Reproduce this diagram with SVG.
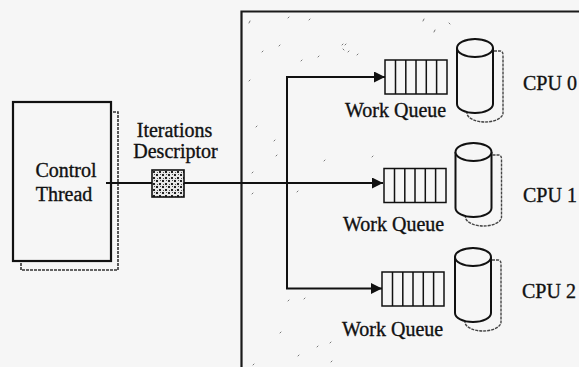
<svg xmlns="http://www.w3.org/2000/svg" width="579" height="367" viewBox="0 0 579 367">
  <style>
    .lbl { font-family: "Liberation Serif", "Times New Roman", serif; font-size: 20px; fill: #111; stroke: #111; stroke-width: 0.35; }
    .edge { fill: none; stroke: #111; stroke-width: 2; }
    .frame { fill: none; stroke: #1a1a1a; stroke-width: 2.2; }
    .shadow { fill: none; stroke: #444; stroke-width: 1.4; stroke-dasharray: 3 1; }
    .body { fill: #f6f6f6; stroke: #111; stroke-width: 2; }
    .cell { fill: none; stroke: #111; stroke-width: 1.5; }
    .speck { stroke: #777; stroke-width: 1; stroke-linecap: round; }
  </style>
  <defs>
    <marker id="arrow" markerUnits="userSpaceOnUse" markerWidth="11" markerHeight="11" refX="11" refY="5.5" orient="auto">
      <path d="M0,0 L11,5.5 L0,11 z" fill="#111"/>
    </marker>
    <pattern id="dither" width="6" height="6" patternUnits="userSpaceOnUse">
      <rect width="6" height="6" fill="#e8e8e8"/>
      <rect x="0" y="0" width="2" height="2" fill="#222"/>
      <rect x="3" y="3" width="2" height="2" fill="#222"/>
      <rect x="4" y="0" width="1" height="1" fill="#555"/>
      <rect x="1" y="4" width="1" height="1" fill="#555"/>
    </pattern>
    <!-- a work queue: six slots -->
    <g id="queue">
      <rect class="cell" x="0" y="0" width="62" height="34"/>
      <path class="cell" d="M10.5,0 V34 M20.8,0 V34 M31,0 V34 M41.3,0 V34 M51.6,0 V34"/>
    </g>
    <!-- a CPU: cylinder with an offset shadow behind it -->
    <g id="cpu">
      <path class="shadow" d="M19,3 H25 Q28,3 28,7 V65 A18 9 0 0 1 -8,65"/>
      <path class="body" d="M-18,0 V56 A18 9 0 0 0 18,56 V0"/>
      <ellipse class="body" cx="0" cy="0" rx="18" ry="9"/>
    </g>
  </defs>

  <rect width="579" height="367" fill="#f6f6f6"/>

  <!-- machine boundary -->
  <g id="machine">
    <path class="frame" d="M241.5,367 V11.5 H579"/>
    <g id="specks">
      <path class="speck" d="M250,21 l-1,2 M289,17 l-1,1 M310,19 l-1,1 M424,19 l-1,2 M449,23 l1,1 M435,30 l-1,2
        M263,51 l-1,1 M280,45 l-1,1 M302,60 l-1,1 M319,56 l-1,1 M343,44 l-1,1 M346,44 l-1,1 M343,49 l1,1 M349,51 l-1,1 M358,54 l-1,1
        M250,80 l-1,1 M257,126 l-1,1 M275,140 l-1,1 M325,160 l-1,1 M373,156 l-1,1 M277,155 l-1,1 M253,172 l-1,1 M253,193 l-1,1 M298,191 l-1,1
        M289,300 l-1,1 M305,298 l-1,1 M281,332 l-1,1 M318,346 l-1,1 M331,342 l-1,1 M299,355 l-1,1 M332,361 l-1,1 M254,364 l-1,1"/>
    </g>
  </g>

  <!-- control thread -->
  <g id="control-thread">
    <rect x="21" y="112" width="97" height="158" fill="none" stroke="#333" stroke-width="1.6" stroke-dasharray="3 1"/>
    <rect x="13" y="102" width="98" height="159" fill="#f6f6f6" stroke="#111" stroke-width="2.2"/>
    <text class="lbl" x="66" y="177" text-anchor="middle">Control</text>
    <text class="lbl" x="64" y="201" text-anchor="middle">Thread</text>
  </g>

  <!-- connectors -->
  <g id="connectors">
    <path class="edge" d="M106,183 H383" marker-end="url(#arrow)"/>
    <path class="edge" d="M287,183 V77 H385" marker-end="url(#arrow)"/>
    <path class="edge" d="M287,183 V288.5 H382" marker-end="url(#arrow)"/>
  </g>

  <!-- iterations descriptor -->
  <g id="descriptor">
    <text class="lbl" x="174.5" y="137" text-anchor="middle">Iterations</text>
    <text class="lbl" x="175.5" y="158" text-anchor="middle">Descriptor</text>
    <rect x="152" y="170" width="32" height="27" fill="url(#dither)" stroke="#111" stroke-width="1.6"/>
  </g>

  <!-- work queues -->
  <g id="queue-0">
    <use href="#queue" x="385" y="60"/>
    <text class="lbl" x="345" y="117">Work Queue</text>
  </g>
  <g id="queue-1">
    <use href="#queue" x="384" y="168.5"/>
    <text class="lbl" x="343" y="231">Work Queue</text>
  </g>
  <g id="queue-2">
    <use href="#queue" x="382" y="272"/>
    <text class="lbl" x="342" y="336">Work Queue</text>
  </g>

  <!-- CPUs -->
  <g id="cpu-0">
    <use href="#cpu" x="475" y="48"/>
    <text class="lbl" x="523" y="90">CPU 0</text>
  </g>
  <g id="cpu-1">
    <use href="#cpu" x="473.5" y="152"/>
    <text class="lbl" x="523" y="202">CPU 1</text>
  </g>
  <g id="cpu-2">
    <use href="#cpu" x="473" y="257"/>
    <text class="lbl" x="522" y="298">CPU 2</text>
  </g>
</svg>
